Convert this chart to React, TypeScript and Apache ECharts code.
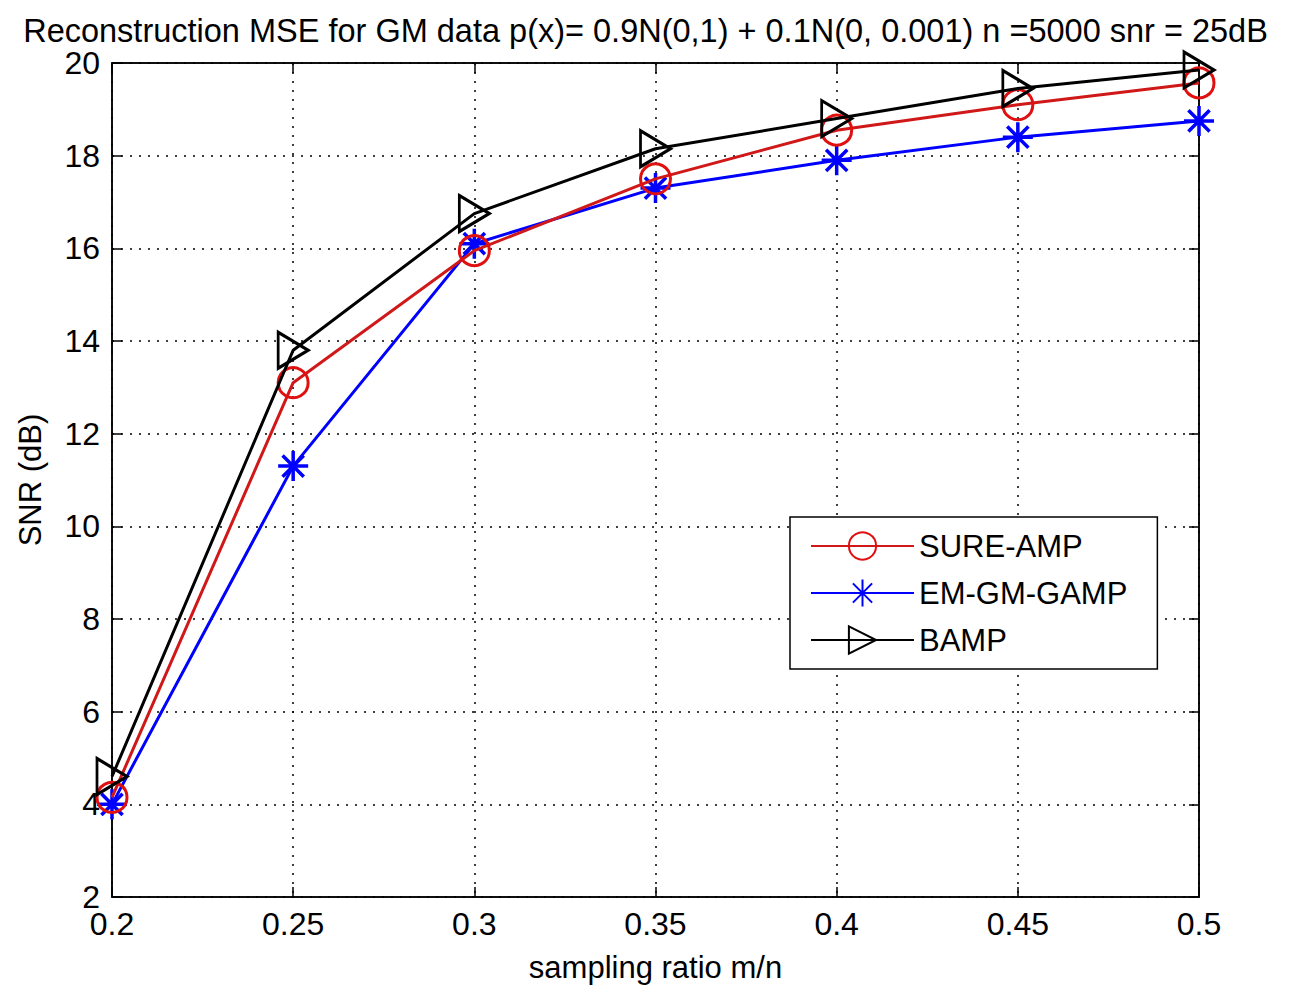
import React, { useEffect, useRef } from "react";
import * as echarts from "echarts";

const xValues = [0.2, 0.25, 0.3, 0.35, 0.4, 0.45, 0.5];
const sureAmp = [4.15, 13.1, 15.95, 17.5, 18.55, 19.1, 19.57];
const emGmGamp = [4.0, 11.3, 16.1, 17.3, 17.9, 18.4, 18.75];
const bamp = [4.6, 13.8, 16.75, 18.15, 18.8, 19.45, 19.85];
const seriesNames = ["SURE-AMP", "EM-GM-GAMP", "BAMP"];
const titleText =
  "Reconstruction MSE for GM data p(x)= 0.9N(0,1) + 0.1N(0, 0.001) n =5000 snr = 25dB";

const FONT = "Liberation Sans, Arial, sans-serif";
const triPath = "path://M0,0 L26,15 L0,30 Z";
const starPath =
  "path://M15,0 L15,30 M0,15 L30,15 M4.4,4.4 L25.6,25.6 M4.4,25.6 L25.6,4.4";

export default function App() {
  const ref = useRef<HTMLDivElement>(null);
  useEffect(() => {
    document.body.style.margin = "0";
    const chart = echarts.init(ref.current!, null, { renderer: "svg" });
    const pair = (ys: number[]) => xValues.map((x, i) => [x, ys[i]]);
    const fmt = (v: number) => String(Math.round(v * 100) / 100);
    const tickStyle = { show: true, inside: true, length: 10, lineStyle: { color: "#000", width: 1.5 } };
    chart.setOption({
      animation: false,
      backgroundColor: "#fff",
      title: {
        text: titleText,
        left: "center",
        top: 9,
        textStyle: { fontFamily: FONT, fontSize: 32.5, fontWeight: "normal", color: "#000" },
      },
      grid: { left: 112, right: 92, top: 63, bottom: 92, show: true, borderColor: "#000", borderWidth: 1.5 },
      legend: {
        left: 790,
        top: 517,
        orient: "vertical",
        backgroundColor: "#fff",
        borderColor: "#000",
        borderWidth: 1.5,
        borderRadius: 0,
        padding: [12, 30, 12, 20],
        itemWidth: 103,
        itemHeight: 34,
        itemGap: 13,
        data: seriesNames,
        textStyle: { fontFamily: FONT, fontSize: 31, color: "#000", lineHeight: 34 },
      },
      xAxis: [
        {
          type: "value",
          min: 0.2,
          max: 0.5,
          interval: 0.05,
          name: "sampling ratio m/n",
          nameLocation: "middle",
          nameGap: 55,
          nameTextStyle: { fontFamily: FONT, fontSize: 31, color: "#000" },
          axisLine: { show: true, onZero: false, lineStyle: { color: "#000", width: 1.5 } },
          axisTick: tickStyle,
          axisLabel: { fontFamily: FONT, fontSize: 32, color: "#000", margin: 11, formatter: fmt },
          splitLine: { show: true, lineStyle: { color: "#000", type: [2, 7], width: 1.5 } },
        },
        {
          type: "value",
          position: "top",
          min: 0.2,
          max: 0.5,
          interval: 0.05,
          axisLine: { show: true, onZero: false, lineStyle: { color: "#000", width: 1.5 } },
          axisTick: tickStyle,
          axisLabel: { show: false },
          splitLine: { show: false },
        },
      ],
      yAxis: [
        {
          type: "value",
          min: 2,
          max: 20,
          interval: 2,
          name: "SNR (dB)",
          nameLocation: "middle",
          nameGap: 66,
          nameTextStyle: { fontFamily: FONT, fontSize: 31, color: "#000" },
          axisLine: { show: true, onZero: false, lineStyle: { color: "#000", width: 1.5 } },
          axisTick: tickStyle,
          axisLabel: { fontFamily: FONT, fontSize: 32, color: "#000", margin: 12 },
          splitLine: { show: true, lineStyle: { color: "#000", type: [2, 7], width: 1.5 } },
        },
        {
          type: "value",
          position: "right",
          min: 2,
          max: 20,
          interval: 2,
          axisLine: { show: true, onZero: false, lineStyle: { color: "#000", width: 1.5 } },
          axisTick: tickStyle,
          axisLabel: { show: false },
          splitLine: { show: false },
        },
      ],
      series: [
        {
          name: seriesNames[0],
          type: "line",
          data: pair(sureAmp),
          color: "#e01010",
          symbol: "circle",
          symbolSize: 30,
          lineStyle: { color: "#d01818", width: 3 },
          itemStyle: { color: "transparent", borderColor: "#e01010", borderWidth: 3 },
          z: 3,
        },
        {
          name: seriesNames[1],
          type: "line",
          data: pair(emGmGamp),
          color: "#0000ff",
          symbol: starPath,
          symbolSize: 30,
          lineStyle: { color: "#0000ff", width: 3 },
          itemStyle: { color: "transparent", borderColor: "#0000ff", borderWidth: 3.5 },
          z: 2,
        },
        {
          name: seriesNames[2],
          type: "line",
          data: pair(bamp),
          color: "#000",
          symbol: triPath,
          symbolSize: [30, 36],
          lineStyle: { color: "#000", width: 3 },
          itemStyle: { color: "transparent", borderColor: "#000", borderWidth: 3 },
          z: 4,
        },
      ],
    });
    return () => chart.dispose();
  }, []);
  return <div ref={ref} style={{ width: 1291, height: 989 }} />;
}
